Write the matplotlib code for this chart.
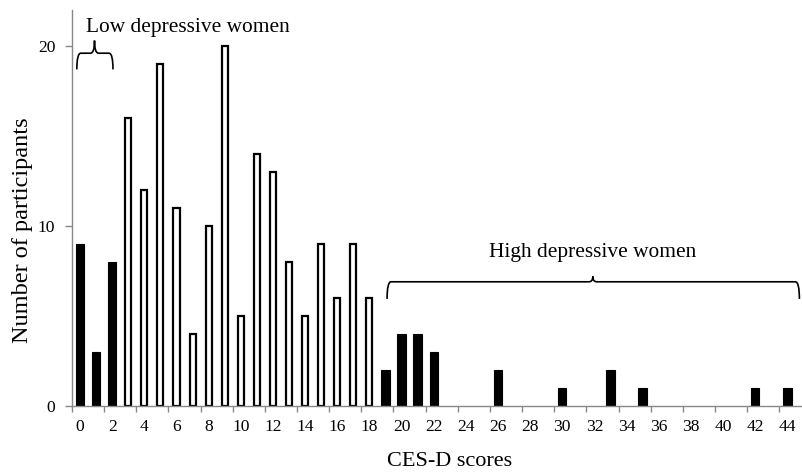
import matplotlib
matplotlib.use("Agg")
import matplotlib.pyplot as plt
from matplotlib.path import Path
from matplotlib.patches import PathPatch
import numpy as np

scores = list(range(0, 45))
counts = [9, 3, 8, 16, 12, 19, 11, 4, 10, 20, 5, 14, 13, 8, 5, 9, 6, 9, 6,
          2, 4, 4, 3, 0, 0, 0, 2, 0, 0, 0, 1, 0, 0, 2, 0, 1, 0, 0, 0, 0, 0, 0, 1, 0, 1]
# group: 1 = black (low/high depressive), 0 = white (intermediate)
black = [1, 1, 1] + [0] * 16 + [1] * 26
xtick_labels = [str(v) for v in range(0, 45, 2)]
ytick_vals = [0, 10, 20]
low_label = "Low depressive women"
high_label = "High depressive women"
xlabel = "CES-D scores"
ylabel = "Number of participants"

plt.rcParams['font.family'] = ['Liberation Serif', 'DejaVu Serif']

fig = plt.figure(figsize=(8.02, 4.72), dpi=100)
ax = fig.add_axes([72 / 802, 1 - 406 / 472, (801 - 72) / 802, (406 - 10) / 472])

for s, c, b in zip(scores, counts, black):
    if c == 0:
        continue
    if b:
        ax.bar(s, c, width=0.52, color='black', edgecolor='black', linewidth=0.8)
    else:
        ax.bar(s, c, width=0.38, color='white', edgecolor='black', linewidth=1.6)

ax.set_xlim(-0.5, 44.85)
ax.set_ylim(0, 22)

ax.set_xticks(np.arange(-0.5, 45, 2))
ax.set_xticklabels([])
ax.set_xticks(range(0, 45, 2), minor=True)
ax.set_xticklabels(xtick_labels, minor=True)
ax.tick_params(axis='x', which='major', direction='out', length=4, color='#888888', width=1)
ax.tick_params(axis='x', which='minor', length=0, pad=9.5, labelsize=12.6)
ax.set_yticks(ytick_vals)
ax.tick_params(axis='y', direction='out', length=5, color='#888888', width=1, labelsize=12.6, pad=7)

for sp in ['top', 'right']:
    ax.spines[sp].set_visible(False)
for sp in ['left', 'bottom']:
    ax.spines[sp].set_color('#888888')
    ax.spines[sp].set_linewidth(1)


def brace(x0, x1, xm, y_end, y_line, y_tip):
    rx = 4 / 16.1
    verts = [
        (x0, y_end), (x0, y_line), (x0 + rx, y_line),
        (xm - rx, y_line), (xm, y_line), (xm, y_tip),
        (xm, y_line), (xm + rx, y_line),
        (x1 - rx, y_line), (x1, y_line), (x1, y_end),
    ]
    codes = [Path.MOVETO, Path.CURVE3, Path.CURVE3,
             Path.LINETO, Path.CURVE3, Path.CURVE3,
             Path.CURVE3, Path.CURVE3,
             Path.LINETO, Path.CURVE3, Path.CURVE3]
    ax.add_patch(PathPatch(Path(verts, codes), facecolor='none', edgecolor='black',
                           linewidth=1.2, clip_on=False))


brace(-0.2, 2.05, 0.9, 18.7, 19.6, 20.3)
brace(19.1, 44.75, 31.9, 5.95, 6.9, 7.2)

ax.text(0.35, 21.05, low_label, fontsize=15.4, ha='left', va='center')
ax.text(31.9, 8.5, high_label, fontsize=15.4, ha='center', va='center')

fig.text(450 / 802, 1 - 461 / 472, xlabel, fontsize=16, ha='center', va='center')
fig.text(23 / 802, 1 - 230 / 472, ylabel, fontsize=17.5, ha='center', va='center', rotation=90)

fig.savefig("out.png", dpi=100)
